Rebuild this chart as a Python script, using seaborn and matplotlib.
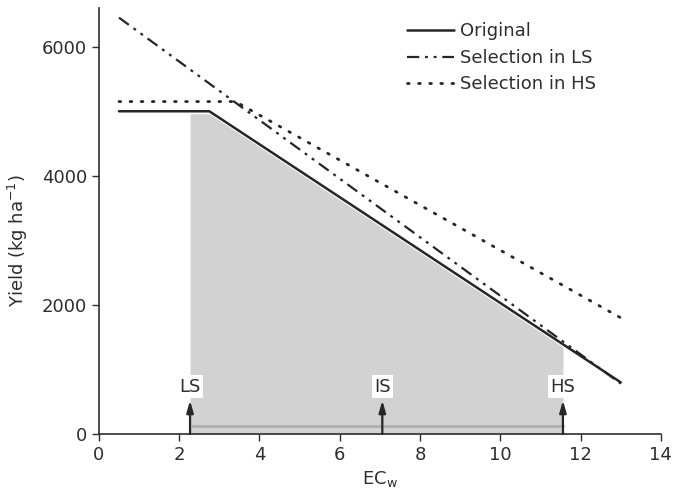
import numpy as np
import pandas as pd
import matplotlib
matplotlib.use("Agg")
import matplotlib.pyplot as plt
import seaborn as sns

# salinity (EC_w) break points and yields
ec_original = [0.5, 2.75, 13.0]
yield_original = [5000, 5000, 800]

ec_sel_ls = [0.5, 13.0]
yield_sel_ls = [6450, 780]

ec_sel_hs = [0.5, 3.4, 13.0]
yield_sel_hs = [5150, 5150, 1800]

# selection environments
env_labels = ["LS", "IS", "HS"]
env_ec = [2.27, 7.06, 11.56]

sns.set_style("ticks")
plt.rcParams["font.family"] = ["DejaVu Sans"]

fig = plt.figure(figsize=(6.73, 4.98), dpi=100)
ax = fig.add_axes([0.147, 0.1285, 0.835, 0.8555])

ink = "#262626"
txt = "#2e2e2e"

# shaded area under original curve between LS and HS
xs = np.linspace(env_ec[0], env_ec[-1], 200)
ys = np.interp(xs, ec_original, yield_original) - 40
ax.fill_between(xs, 0, ys, color="#d2d2d2", lw=0, zorder=1)
ax.plot([env_ec[0] + 0.05, env_ec[-1]], [120, 120], color="#b0b0b0", lw=2, zorder=1.5)

sns.lineplot(x=ec_original, y=yield_original, ax=ax, color=ink, lw=1.8,
             label="Original", zorder=3)
sns.lineplot(x=ec_sel_ls, y=yield_sel_ls, ax=ax, color=ink, lw=1.6,
             label="Selection in LS", zorder=3)
sns.lineplot(x=ec_sel_hs, y=yield_sel_hs, ax=ax, color=ink, lw=2,
             label="Selection in HS", zorder=3)
ax.lines[-2].set_dashes((5.5, 2.6, 1.3, 2.6, 1.3, 2.6))
ax.lines[-1].set_dashes((0.6, 3.4))
ax.lines[-1].set_dash_capstyle("round")

for lab, x in zip(env_labels, env_ec):
    ax.annotate("", xy=(x, 520), xytext=(x, 0),
                arrowprops=dict(arrowstyle="-|>,head_width=0.2,head_length=0.7",
                                color=ink, lw=1.6, shrinkA=0, shrinkB=0),
                zorder=4)
    ax.text(x, 735, lab, ha="center", va="center", fontsize=13, color=txt,
            bbox=dict(facecolor="white", edgecolor="none", pad=1.5), zorder=4)

ax.set_xlim(0, 14)
ax.set_ylim(0, 6600)
ax.set_xticks(range(0, 15, 2))
ax.set_yticks([0, 2000, 4000, 6000])
ax.tick_params(labelsize=13, colors=txt, length=5, width=1)
ax.set_xlabel("EC$_\\mathregular{w}$", fontsize=13, color=txt, labelpad=4)
ax.set_ylabel("Yield (kg ha$^\\mathregular{-1}$)", fontsize=13, color=txt)
ax.yaxis.set_label_coords(-0.122, 0.453)
for s in ["left", "bottom"]:
    ax.spines[s].set_color(txt)
    ax.spines[s].set_linewidth(1.2)
sns.despine(ax=ax)

leg = ax.legend(loc="upper left", bbox_to_anchor=(0.548, 0.966), frameon=False,
                borderaxespad=0, borderpad=0,
                fontsize=13, handlelength=2.6, handletextpad=0.35, labelspacing=0.47)
for t in leg.get_texts():
    t.set_color(txt)

fig.savefig("out.png", dpi=100)
